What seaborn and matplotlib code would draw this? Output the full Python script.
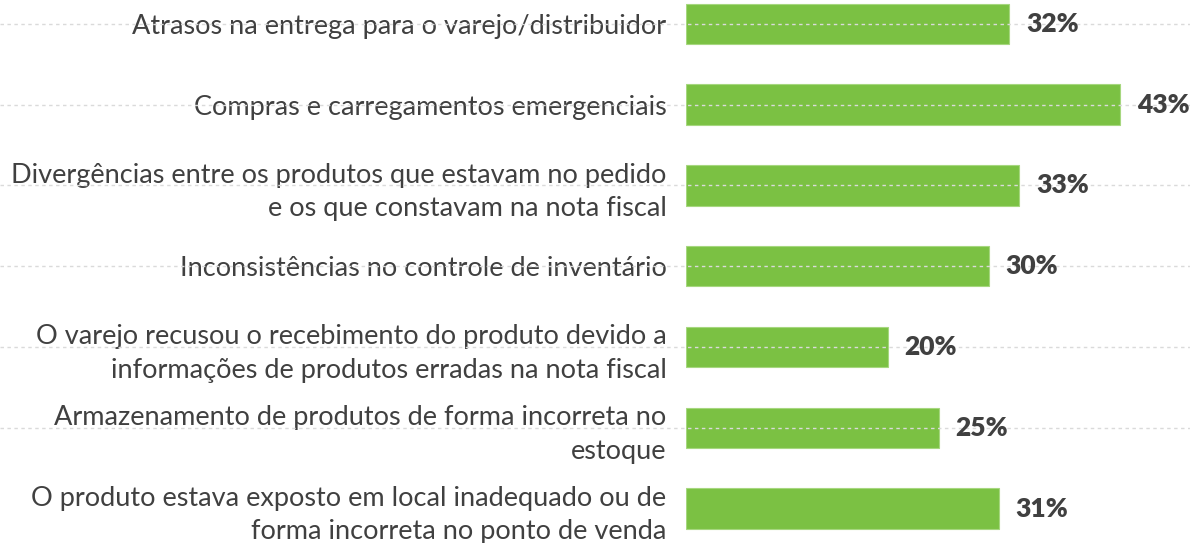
import matplotlib
matplotlib.use("Agg")
import matplotlib.pyplot as plt
import seaborn as sns
import pandas as pd

# Chart data
categories = [
    "Atrasos na entrega para o varejo/distribuidor",
    "Compras e carregamentos emergenciais",
    "Divergências entre os produtos que estavam no pedido\ne os que constavam na nota fiscal",
    "Inconsistências no controle de inventário",
    "O varejo recusou o recebimento do produto devido a\ninformações de produtos erradas na nota fiscal",
    "Armazenamento de produtos de forma incorreta no\nestoque",
    "O produto estava exposto em local inadequado ou de\nforma incorreta no ponto de venda",
]
values = [32, 43, 33, 30, 20, 25, 31]
value_labels = ["32%", "43%", "33%", "30%", "20%", "25%", "31%"]

df = pd.DataFrame({"category": categories, "value": values})

sns.set_style("white")
plt.rcParams["font.family"] = ["Lato", "DejaVu Sans"]

fig = plt.figure(figsize=(11.9, 5.43), dpi=100)
ax = fig.add_axes([686 / 1190, -0.0109, 505 / 1190, 1.0416])

sns.barplot(data=df, y="category", x="value", orient="h", color="#7BC143",
            saturation=1, width=0.5, edgecolor="#A6D77F", linewidth=0.8, ax=ax)

ax.set_xlim(0, 50)
ax.set_ylim(len(categories) - 0.5, -0.5)
ax.set_xlabel("")
ax.set_ylabel("")
ax.set_xticks([])
for s in ax.spines.values():
    s.set_visible(False)

ax.tick_params(axis="y", length=0, pad=14)
for lbl in ax.get_yticklabels():
    lbl.set_fontsize(19.5)
    lbl.set_color("#404040")
    lbl.set_multialignment("right")
    lbl.set_linespacing(1.42)

# dashed guide lines across the whole figure (none for the last row)
for i in range(len(categories) - 1):
    ax.axhline(i, xmin=-686 / 505, xmax=1.0, color="#DADADA", lw=1,
               ls=(0, (2.5, 2.5)), clip_on=False, zorder=3)

# value labels
for cont in ax.containers:
    ax.bar_label(cont, labels=value_labels, padding=12, fontsize=19,
                 fontweight="heavy", color="#404040")

fig.savefig("out.png", dpi=100)
